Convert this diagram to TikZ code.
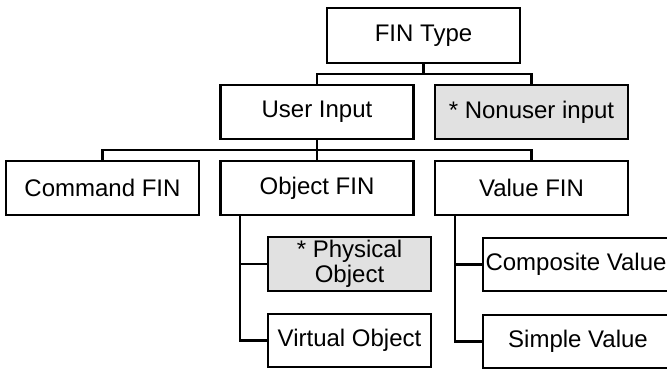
\documentclass[tikz,border=0pt]{standalone}
\usepackage{fontspec}
\setmainfont{Liberation Sans}
\definecolor{shade}{RGB}{225,225,225}
\begin{document}
\begin{tikzpicture}[x=1pt,y=-1pt,
  box/.style={draw=black, line width=2.2pt, fill=white, inner sep=0pt,
    minimum width=193pt, minimum height=54pt, align=center,
    font=\fontsize{24}{25.5}\selectfont},
  grey/.style={box, fill=shade},
  link/.style={draw=black, line width=2.2pt}]
\useasboundingbox (0,0) rectangle (667,368);
\clip (0,0) rectangle (667,368);

% root
\node[box, minimum height=55pt] (fintype) at (423.5,35.5) {FIN Type};

% second level
\node[box] (userinput) at (317,112) {User Input};
\node[grey] (nonuser) at (531.5,112) {* Nonuser input};

% third level
\node[box] (command) at (102.5,188) {Command FIN};
\node[box] (object) at (317,188) {Object FIN};
\node[box] (value) at (531.5,188) {Value FIN};

% leaves
\node[grey, minimum width=163pt] (physical) at (349.5,264) {* Physical\\Object};
\node[box, minimum width=163pt, minimum height=53pt] (virtual) at (349.5,340.5) {Virtual Object};
\node[box, minimum width=190pt, minimum height=53pt] (composite) at (578,264.5) {\hspace*{-4pt}Composite Value};
\node[box, minimum width=190pt, minimum height=53pt] (simple) at (578,341.5) {Simple Value};

% tree connectors
\coordinate (j1) at (423.5,74);
\coordinate (j2) at (317,150);
\draw[link] (fintype.south) -- (j1);
\draw[link] (userinput.north) |- (j1) -| (nonuser.north);
\draw[link] (userinput.south) -- (object.north);
\draw[link] (command.north) |- (j2) -| (value.north);

\coordinate (ob) at ([xshift=-77pt]object.south);
\coordinate (vb) at ([xshift=-76.5pt]value.south);
\draw[link] (ob) |- (physical.west);
\draw[link] (ob) |- (virtual.west);
\draw[link] (vb) |- (composite.west);
\draw[link] (vb) |- (simple.west);
\end{tikzpicture}
\end{document}
